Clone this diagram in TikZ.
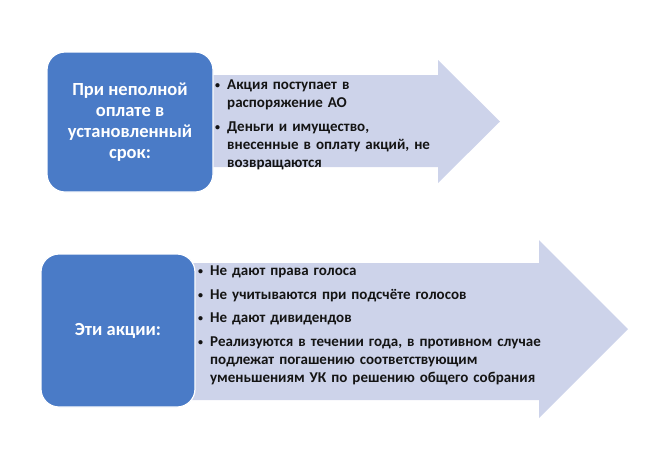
\documentclass[tikz,border=0pt]{standalone}
\usepackage{fontspec}
\setmainfont{Carlito}
\usetikzlibrary{positioning}
\definecolor{cblue}{HTML}{4A7BC7}
\definecolor{clav}{HTML}{CDD3EA}
\definecolor{cink}{HTML}{141414}
\newcommand{\bitem}[1]{\hangindent=12pt\hangafter=1\noindent\makebox[12pt][l]{\raisebox{1pt}{\fontsize{10}{10}\selectfont\textbullet}}#1\par\vspace{5.5pt}}
\tikzset{
  qbox/.style={rounded corners=18pt,fill=cblue,draw=white,line width=1.2pt,text=white,
               font=\bfseries\fontsize{18.5}{21}\selectfont,align=center,inner sep=0pt},
  band/.style={fill=clav},
  plist/.style={anchor=north west,text width=#1,align=left,inner sep=0pt,text=cink,
                font=\bfseries\fontsize{15}{18}\selectfont},
}

\begin{document}
\begin{tikzpicture}[x=1pt,y=-1pt]
\useasboundingbox (0,0) rectangle (646,472);

% first row
\fill[band] (200,75) -- (438,75) -- (438,60) -- (500,121.5) -- (438,183) -- (438,167) -- (200,167) -- cycle;
\node[qbox,minimum width=166pt,minimum height=140pt] (q1) at (130,122) {При неполной\\оплате в\\установленный\\срок:};
\node[plist=300pt] (l1) at (215,80) {%
  \bitem{Акция поступает в\newline распоряжение АО}
  \bitem{Деньги и имущество,\newline внесенные в оплату акций, не\newline возвращаются}};

% second row
\fill[band] (180,263) -- (539,263) -- (539,240) -- (628,329) -- (539,418) -- (539,400) -- (180,400) -- cycle;
\node[qbox,minimum width=154pt,minimum height=153pt] (q2) at (118,330.5) {Эти акции:};
\node[plist=420pt] (l2) at (198,266) {%
  \bitem{Не дают права голоса}
  \bitem{Не учитываются при подсчёте голосов}
  \bitem{Не дают дивидендов}
  \bitem{Реализуются в течении года, в противном случае\newline подлежат погашению соответствующим\newline уменьшениям УК по решению общего собрания}};

\end{tikzpicture}
\end{document}
